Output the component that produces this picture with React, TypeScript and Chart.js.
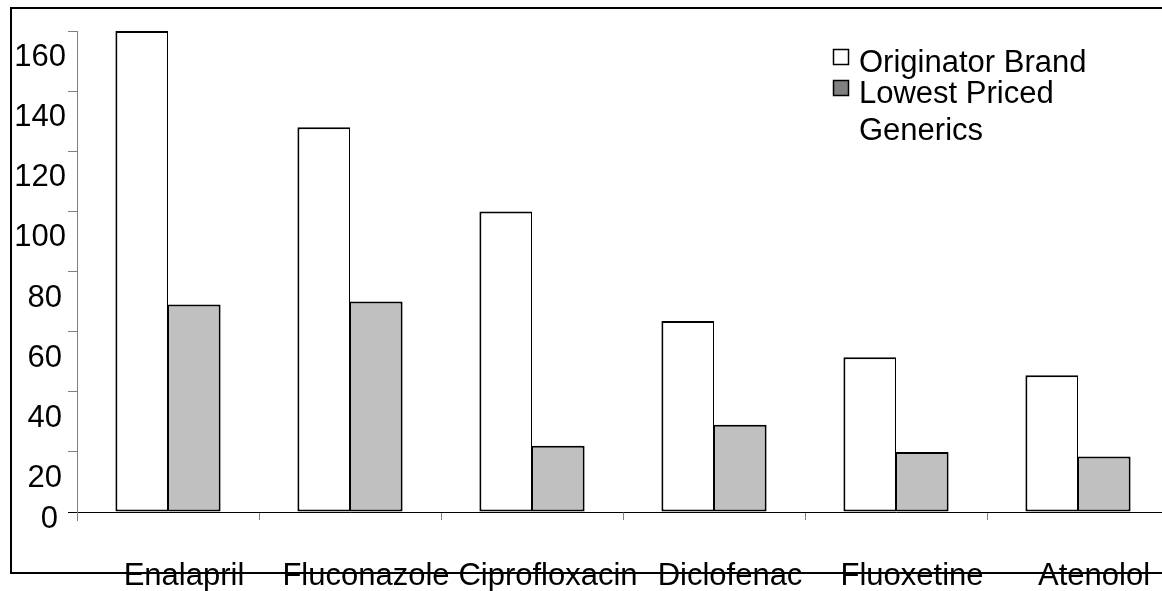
import React, { useEffect, useRef } from 'react';
import { Chart, registerables } from 'chart.js';

Chart.register(...registerables);

const categories = ['Enalapril', 'Fluconazole', 'Ciprofloxacin', 'Diclofenac', 'Fluoxetine', 'Atenolol'];
const originatorBrand = [160, 128, 100, 63.5, 51.5, 45.5];
const lowestPricedGenerics = [69, 70, 22, 29, 20, 18.5];
const yTickValues = [0, 20, 40, 60, 80, 100, 120, 140, 160];
const seriesNames = ['Originator Brand', 'Lowest Priced Generics'];
const legendLines = [['Originator Brand'], ['Lowest Priced', 'Generics']];

const FONT_FAMILY = '"Liberation Sans", Arial, Helvetica, sans-serif';
const FONT = '31px ' + FONT_FAMILY;
const BAR_COLORS = ['#ffffff', '#c0c0c0'];
const SWATCH_COLORS = ['#ffffff', '#808080'];
const AXIS_GREY = '#808080';
const CANVAS_W = 1170;
const CANVAS_H = 591;

const decorPlugin = {
  id: 'decor',
  beforeDraw(chart: any) {
    const ctx = chart.ctx;
    ctx.save();
    ctx.fillStyle = '#ffffff';
    ctx.fillRect(0, 0, chart.width, chart.height);
    ctx.strokeStyle = '#000000';
    ctx.lineWidth = 2;
    ctx.beginPath();
    ctx.moveTo(chart.width, 8);
    ctx.lineTo(11, 8);
    ctx.lineTo(11, 573);
    ctx.lineTo(chart.width, 573);
    ctx.stroke();
    ctx.restore();
  },
  afterDraw(chart: any) {
    const ctx = chart.ctx;
    const xs = chart.scales.x;
    const ys = chart.scales.y;
    const area = chart.chartArea;
    ctx.save();
    // y axis extension below zero
    ctx.strokeStyle = AXIS_GREY;
    ctx.lineWidth = 1;
    ctx.beginPath();
    ctx.moveTo(Math.round(area.left) + 0.5, ys.getPixelForValue(0));
    ctx.lineTo(Math.round(area.left) + 0.5, ys.getPixelForValue(0) + 9);
    ctx.stroke();

    ctx.font = FONT;
    ctx.fillStyle = '#000000';
    // y labels
    ctx.textAlign = 'right';
    ctx.textBaseline = 'alphabetic';
    yTickValues.forEach((v) => {
      const s = String(v);
      const py = ys.getPixelForValue(v);
      const xr = 54 + 4 * s.length;
      const off = v === 0 ? 16 : 35;
      ctx.fillText(s, xr, py + off);
    });
    // x labels
    ctx.textAlign = 'center';
    categories.forEach((c, i) => {
      const px = xs.getPixelForValue(i) + 16;
      ctx.fillText(c, px, ys.getPixelForValue(0) + 73);
    });
    // legend
    const lx = 833;
    const ly = 49;
    const rows = [
      { box: 0, lines: legendLines[0], baselines: [23] },
      { box: 31, lines: legendLines[1], baselines: [54, 91] },
    ];
    rows.forEach((r, i) => {
      ctx.fillStyle = SWATCH_COLORS[i];
      ctx.fillRect(lx, ly + r.box, 16, 16);
      ctx.strokeStyle = '#000000';
      ctx.lineWidth = 1.5;
      ctx.strokeRect(lx + 0.5, ly + r.box + 0.5, 15, 15);
      ctx.fillStyle = '#000000';
      ctx.textAlign = 'left';
      r.lines.forEach((t, j) => ctx.fillText(t, lx + 26, ly + r.baselines[j]));
    });
    ctx.restore();
  },
};

export default function App() {
  const canvasRef = useRef<HTMLCanvasElement | null>(null);

  useEffect(() => {
    const canvas = canvasRef.current;
    if (!canvas) return;
    const chart = new Chart(canvas, {
      type: 'bar',
      data: {
        labels: categories,
        datasets: [
          {
            label: seriesNames[0],
            data: originatorBrand,
            backgroundColor: BAR_COLORS[0],
            borderColor: '#000000',
            borderWidth: { top: 2, left: 2, bottom: 2, right: 1 },
            borderSkipped: false,
            barPercentage: 1,
            categoryPercentage: 0.578,
          },
          {
            label: seriesNames[1],
            data: lowestPricedGenerics,
            backgroundColor: BAR_COLORS[1],
            borderColor: '#000000',
            borderWidth: { top: 2, left: 1, bottom: 2, right: 2 },
            borderSkipped: false,
            barPercentage: 1,
            categoryPercentage: 0.578,
          },
        ],
      },
      options: {
        animation: false,
        responsive: false,
        maintainAspectRatio: false,
        devicePixelRatio: 1,
        layout: { padding: { left: 77, right: 1, top: 31, bottom: 79 } },
        plugins: {
          legend: { display: false },
          tooltip: { enabled: false },
          title: { display: false },
        },
        scales: {
          x: {
            type: 'category',
            offset: true,
            grid: {
              display: true,
              drawOnChartArea: false,
              drawTicks: true,
              tickLength: 8,
              color: AXIS_GREY,
              offset: true,
            },
            border: { display: true, color: '#000000', width: 1 },
            ticks: { display: false },
            afterFit: (s: any) => {
              s.height = 0;
            },
          },
          y: {
            type: 'linear',
            min: 0,
            max: 160,
            ticks: { display: false, stepSize: 20 },
            grid: {
              display: true,
              drawOnChartArea: false,
              drawTicks: true,
              tickLength: 9,
              color: (c: any) => (c.tick && c.tick.value === 0 ? '#000000' : AXIS_GREY),
            },
            border: { display: true, color: AXIS_GREY, width: 1 },
            afterFit: (s: any) => {
              s.width = 0;
            },
          },
        },
      },
      plugins: [decorPlugin],
    } as any);
    return () => chart.destroy();
  }, []);

  return (
    <div
      style={{
        position: 'fixed',
        left: 0,
        top: 0,
        width: '100vw',
        height: '100vh',
        overflow: 'hidden',
        background: '#fff',
      }}
    >
      <canvas ref={canvasRef} width={CANVAS_W} height={CANVAS_H} style={{ display: 'block' }} />
    </div>
  );
}
